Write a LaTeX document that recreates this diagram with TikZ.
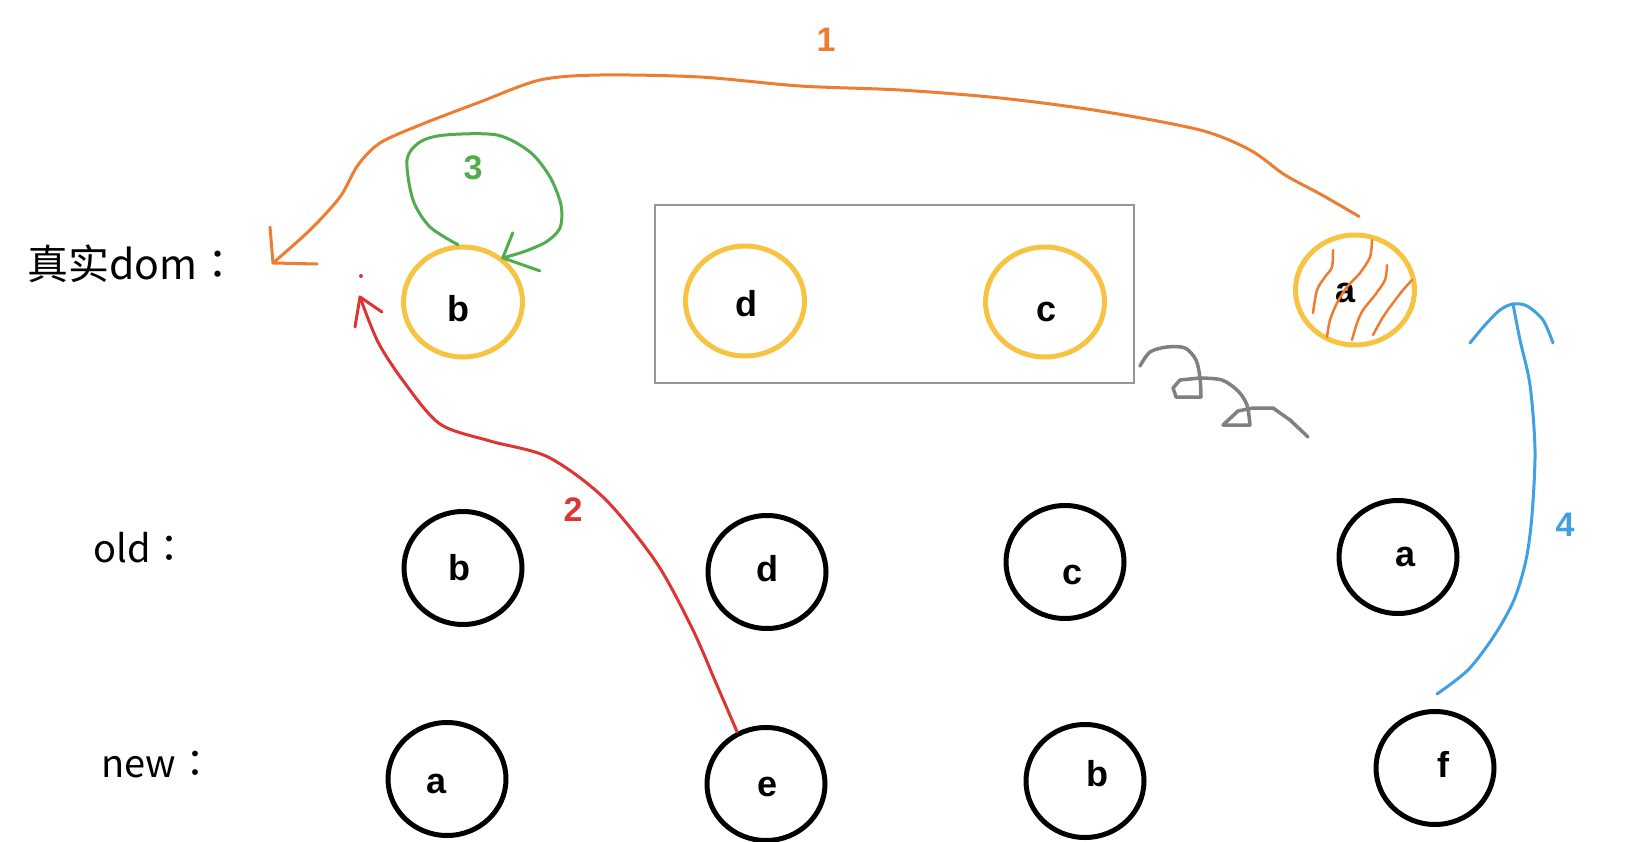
\documentclass[tikz,border=0pt]{standalone}
\usepackage{fontspec}
\setmainfont{Liberation Sans}
\newfontfamily\cjk{Noto Sans CJK SC}
\newfontfamily\cjktc{Noto Sans CJK TC}
\usetikzlibrary{shapes.geometric}
\definecolor{penorange}{RGB}{237,125,49}
\definecolor{penred}{RGB}{222,52,52}
\definecolor{pengreen}{RGB}{80,172,76}
\definecolor{penblue}{RGB}{64,160,225}
\definecolor{pengold}{RGB}{246,196,66}
\definecolor{pengray}{RGB}{128,128,128}
\definecolor{boxgray}{RGB}{150,150,150}
\begin{document}
\begin{tikzpicture}[x=1pt,y=-1pt,
  lettr/.style={inner sep=0pt, font=\fontsize{36}{38}\selectfont\bfseries},
  goldnode/.style={ellipse, draw=pengold, line width=5pt, minimum width=119pt, minimum height=110pt, inner sep=0pt},
  blacknode/.style={ellipse, draw=black, line width=5pt, minimum width=118pt, minimum height=113pt, inner sep=0pt},
  rowlabel/.style={anchor=base west, inner sep=0pt, font=\cjk\fontsize{38}{40}\selectfont},
  pen/.style={line width=3pt, line cap=round, line join=round},
  numlabel/.style={font=\fontsize{34}{36}\selectfont\bfseries, inner sep=0pt},
]
\fill[white] (0,0) rectangle (1644,842);
\useasboundingbox (0,0) rectangle (1644,842);

% row labels
\node[rowlabel, font=\cjk\fontsize{41}{43}\selectfont] (lreal) at (27,280) {真实dom{\cjktc ：}};
\node[rowlabel] (lold) at (93,562) {old{\cjktc ：}};
\node[rowlabel] (lnew) at (101,777) {new{\cjktc ：}};

% group box
\draw[boxgray, line width=2pt] (655,205) rectangle (1134,383);

% real dom row
\node[goldnode, label={[lettr, shift={(-5,7)}]center:b}] (tb) at (463,302) {};
\node[goldnode, label={[lettr, shift={(1,3)}]center:d}] (td) at (745,301) {};
\node[goldnode, label={[lettr, shift={(1,10)}]center:c}] (tc) at (1045,302) {};
\node[goldnode, label={[lettr, shift={(-10,3)}]center:a}] (ta) at (1355,290) {};

% old row
\node[blacknode, label={[lettr, shift={(-4,0)}]center:b}] (ob) at (463,568) {};
\node[blacknode, label={[lettr, shift={(0,-3)}]center:d}] (od) at (767,572) {};
\node[blacknode, label={[lettr, shift={(7,13)}]center:c}] (oc) at (1065,562) {};
\node[blacknode, label={[lettr, shift={(7,0)}]center:a}] (oa) at (1398,557) {};

% new row
\node[blacknode, label={[lettr, shift={(-10,5)}]center:a}] (na) at (447,779) {};
\node[blacknode, label={[lettr, shift={(2,3)}]center:e}] (ne) at (766,784) {};
\node[blacknode, label={[lettr, shift={(12,-7)}]center:b}] (nb) at (1085,781) {};
\node[blacknode, label={[lettr, shift={(8,-4)}]center:f}] (nf) at (1435,768) {};

% hatching on a
\begin{scope}[pen, penorange, line width=2.5pt]
\draw plot[smooth] coordinates {(1333,250) (1332,267) (1325,277) (1317,290) (1313,313)};
\draw plot[smooth] coordinates {(1372,240) (1370,257) (1360,273) (1347,287) (1337,303) (1330,320) (1327,337)};
\draw plot[smooth] coordinates {(1387,265) (1385,280) (1375,295) (1363,310) (1357,323) (1352,340)};
\draw plot[smooth] coordinates {(1412,280) (1403,290) (1393,303) (1383,317) (1373,335)};
\end{scope}

% free ends
\coordinate (t1) at (273,263);
\coordinate (t2) at (360,297);
\coordinate (t4) at (1513,304);

% 1: orange
\draw[pen, penorange] plot[smooth] coordinates {([xshift=4pt,yshift=16pt]ta.north) (1322,195) (1285,175) (1250,150) (1200,130) (1100,111) (1000,98) (900,90) (800,86) (700,77) (600,75) (540,80) (480,102) (420,125) (380,143) (358,165) (340,197) (310,230) (t1)};
\draw[pen, penorange] (270,227) -- (t1) -- (317,264);
\node[numlabel, penorange] (n1) at (826,40) {1};

% 2: red
\draw[pen, penred] plot[smooth] coordinates {(ne.119) (716,683) (692,628) (656,562) (604,498) (548,457) (490,441) (440,424) (404,382) (378,342) (t2)};
\draw[pen, penred] (382,312) -- (t2) -- (355,327);
\fill[penred] (361,276) circle (2pt);
\node[numlabel, penred] (n2) at (573,510) {2};

% 3: green
\draw[pen, pengreen] plot[smooth] coordinates {(tb.95) (430,227) (413,200) (407,160) (420,142) (445,135) (497,135) (530,152) (550,177) (561,205) (560,228) (546,242) (523,252) (tb.48)};
\draw[pen, pengreen] ([shift={(10,-25)}]tb.48) -- (tb.48) -- ([shift={(37,13)}]tb.48);
\node[numlabel, pengreen] (n3) at (473,168) {3};

% 4: blue
\draw[pen, penblue] plot[smooth] coordinates {([xshift=2pt,yshift=15pt]nf.north) (1468,670) (1494,636) (1514,600) (1526,560) (1532,515) (1535,450) (1530,385) (1520,340) (t4)};
\draw[pen, penblue] plot[smooth] coordinates {(1470,343) (1485,325) (1500,310) (t4) (1527,306) (1543,320) (1553,343)};
\node[numlabel, penblue] (n4) at (1565,525) {4};

% gray squiggle
\draw[pengray, line width=3.5pt, line cap=round, line join=round]
  plot[smooth] coordinates {(1140,366) (1150,352) (1167,347) (1185,348) (1196,360) (1200,378) (1201,397)}
  -- (1176,397) -- (1173,388) -- (1180,380)
  --plot[smooth] coordinates {(1200,378) (1222,380) (1238,391) (1247,405) (1250,425)}
  -- (1223,425) -- (1238,411) -- (1253,408) -- (1273,408) -- (1290,420) -- (1308,437);
\end{tikzpicture}
\end{document}
